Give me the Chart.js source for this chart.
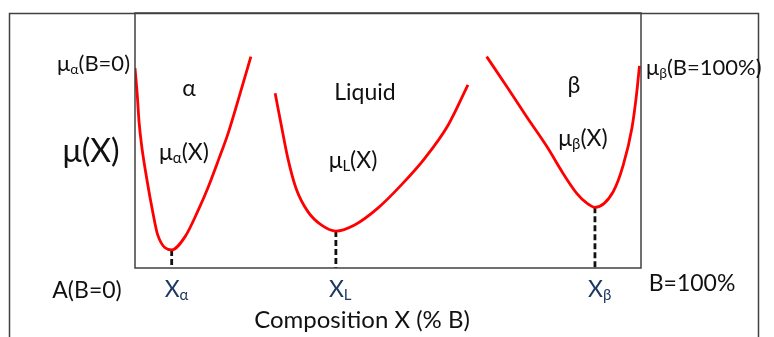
<!DOCTYPE html>
<html>
<head>
<meta charset="utf-8">
<script src="https://cdn.jsdelivr.net/npm/chart.js@4.4.1/dist/chart.umd.min.js"></script>
<style>
  body { margin: 0; background: #fff; }
  canvas { display: block; }
</style>
</head>
<body>
<canvas id="freeEnergy" width="774" height="337"></canvas>
<script>
// Composition (% B) and free energy for each phase curve
const compAlpha = [0, 0.45, 0.8, 1.3, 2.3, 3.5, 4.5, 7.25, 9.9, 12.5, 14.5, 16.5, 18.4, 20.4, 22.9];
const muAlpha = [78.4, 67.8, 57.3, 48.2, 35.3, 22.1, 12.9, 7.1, 12.3, 22.7, 31.9, 42.4, 52.8, 65.9, 82.9];

const compLiquid = [27.7, 28.9, 30.2, 31.8, 34.2, 36.8, 39.7, 43.4, 48.0, 52.6, 57.3, 61.9, 65.8];
const muLiquid = [68.5, 56.1, 43.1, 31.4, 22.0, 16.9, 14.5, 16.9, 23.5, 32.5, 43.1, 56.1, 71.8];

const compBeta = [69.5, 73.5, 77.4, 81.4, 84.6, 87.3, 89.3, 90.9, 94.5, 96.5, 98.2, 99.1, 99.7];
const muBeta = [82.9, 71.1, 59.3, 47.6, 37.1, 29.3, 25.4, 23.8, 29.9, 40.4, 54.8, 67.8, 79.3];

const FONT = 'Lato, "Open Sans", sans-serif';
const NAVY = '#1f3864';

function toPoints(xs, ys) {
  return xs.map((x, i) => ({ x: x, y: ys[i] }));
}

// minimum of each curve -> dashed drop line to the composition axis
function minimumOf(xs, ys) {
  let k = 0;
  ys.forEach((v, i) => { if (v < ys[k]) k = i; });
  return { x: xs[k], y: ys[k] };
}
const minAlpha = minimumOf(compAlpha, muAlpha);
const minLiquid = minimumOf(compLiquid, muLiquid);
const minBeta = minimumOf(compBeta, muBeta);

function curve(xs, ys) {
  return {
    data: toPoints(xs, ys),
    borderColor: '#ff0000',
    borderWidth: 2.8,
    pointRadius: 0,
    cubicInterpolationMode: 'monotone',
    fill: false
  };
}

function dropLine(m) {
  return {
    data: [{ x: m.x, y: m.y }, { x: m.x, y: 0 }],
    borderColor: '#111',
    borderWidth: 2.8,
    borderDash: [6, 3],
    pointRadius: 0,
    fill: false
  };
}

// text pieces: plain runs and lowered subscripts
function drawRich(ctx, parts, x, y, size, align, color) {
  const subSize = Math.round(size * 0.64);
  let total = 0;
  parts.forEach(p => {
    ctx.font = (p.sub ? subSize : size) + 'px ' + FONT;
    p.w = ctx.measureText(p.t).width;
    total += p.w;
  });
  let cx = x;
  if (align === 'center') cx = x - total / 2;
  if (align === 'right') cx = x - total;
  ctx.fillStyle = color || '#111';
  ctx.textBaseline = 'alphabetic';
  ctx.textAlign = 'left';
  const base = y + size * 0.36;
  parts.forEach(p => {
    ctx.font = (p.sub ? subSize : size) + 'px ' + FONT;
    ctx.fillText(p.t, cx, p.sub ? base + size * 0.12 : base);
    cx += p.w;
  });
}

const sketchPlugin = {
  id: 'sketch',
  afterDraw(chart) {
    const ctx = chart.ctx;
    const a = chart.chartArea;
    const xs = chart.scales.x;
    ctx.save();

    // outer frame (open at the bottom)
    ctx.strokeStyle = '#404040';
    ctx.lineWidth = 1.5;
    ctx.beginPath();
    ctx.moveTo(9.5, 337);
    ctx.lineTo(9.5, 13.5);
    ctx.lineTo(758.5, 13.5);
    ctx.lineTo(758.5, 337);
    ctx.stroke();

    // plot box
    ctx.strokeRect(a.left, a.top, a.right - a.left, a.bottom - a.top);

    drawRich(ctx, [{ t: 'μ' }, { t: 'α', sub: true }, { t: '(B=0)' }], 130, 63, 22, 'right');
    drawRich(ctx, [{ t: 'μ(X)' }], 91, 150, 32, 'center');
    drawRich(ctx, [{ t: 'A(B=0)' }], 87, 290, 23, 'center');
    drawRich(ctx, [{ t: 'α' }], 189, 88, 23, 'center');
    drawRich(ctx, [{ t: 'μ' }, { t: 'α', sub: true }, { t: '(X)' }], 184, 152, 23, 'center');
    drawRich(ctx, [{ t: 'Liquid' }], 365, 92, 23, 'center');
    drawRich(ctx, [{ t: 'μ' }, { t: 'L', sub: true }, { t: '(X)' }], 353, 160, 23, 'center');
    drawRich(ctx, [{ t: 'β' }], 574, 85, 23, 'center');
    drawRich(ctx, [{ t: 'μ' }, { t: 'β', sub: true }, { t: '(X)' }], 583, 138, 23, 'center');
    drawRich(ctx, [{ t: 'μ' }, { t: 'β', sub: true }, { t: '(B=100%)' }], 646, 67, 22, 'left');
    drawRich(ctx, [{ t: 'B=100%' }], 692, 283, 23, 'center');
    drawRich(ctx, [{ t: 'Composition X (% B)' }], 362, 319, 24, 'center');

    // phase compositions under each minimum
    [[minAlpha, 'α'], [minLiquid, 'L'], [minBeta, 'β']].forEach(([m, s]) => {
      const px = xs.getPixelForValue(m.x);
      drawRich(ctx, [{ t: 'X' }, { t: s, sub: true }], px - 7, 289, 23, 'left', NAVY);
    });

    ctx.restore();
  }
};

new Chart(document.getElementById('freeEnergy'), {
  type: 'line',
  data: {
    datasets: [
      curve(compAlpha, muAlpha),
      curve(compLiquid, muLiquid),
      curve(compBeta, muBeta),
      dropLine(minAlpha),
      dropLine(minLiquid),
      dropLine(minBeta)
    ]
  },
  options: {
    responsive: false,
    animation: false,
    layout: { padding: { left: 135, right: 133, top: 13, bottom: 69 } },
    scales: {
      x: { type: 'linear', min: 0, max: 100, display: false },
      y: { type: 'linear', min: 0, max: 100, display: false }
    },
    plugins: {
      legend: { display: false },
      tooltip: { enabled: false }
    }
  },
  plugins: [sketchPlugin]
});
</script>
</body>
</html>
